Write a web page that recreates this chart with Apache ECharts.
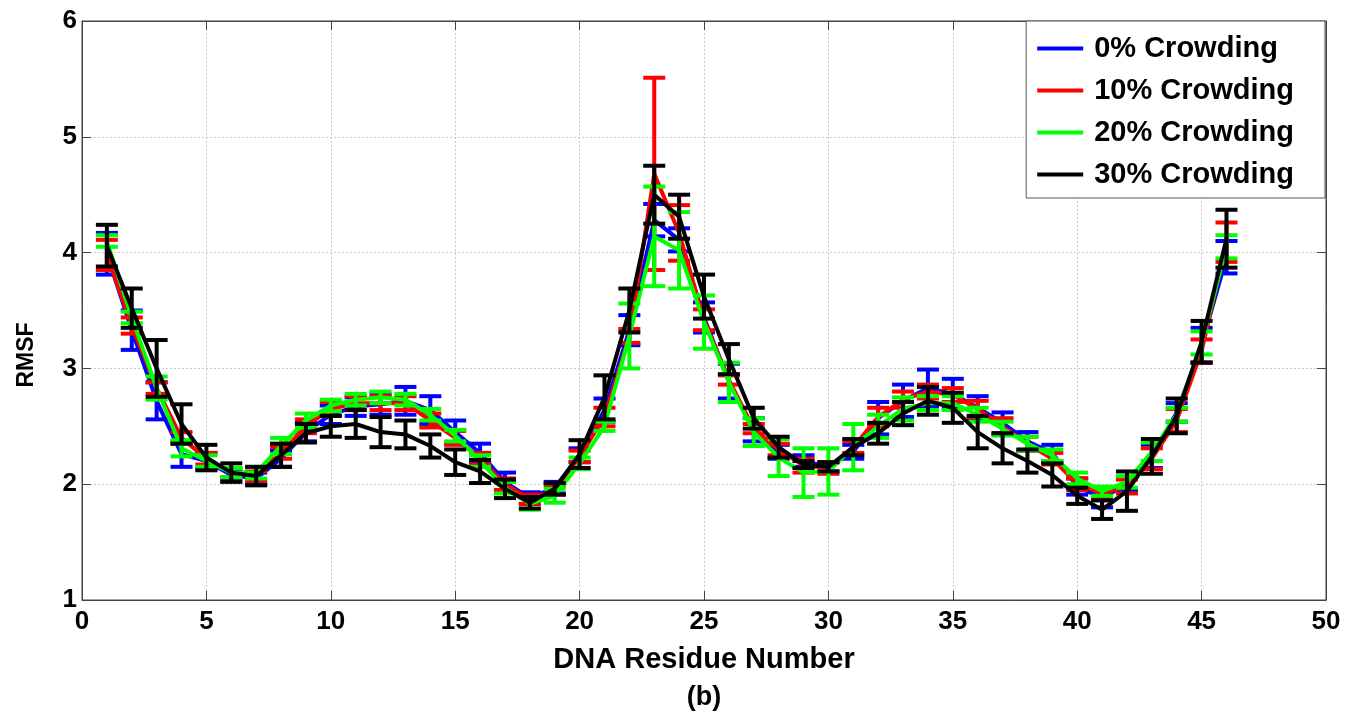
<!DOCTYPE html>
<html>
<head>
<meta charset="utf-8">
<script src="https://cdn.jsdelivr.net/npm/echarts@6/dist/echarts.min.js"></script>
<style>html,body{margin:0;padding:0;background:#fff;}#c{width:1359px;height:715px;}</style>
</head>
<body>
<div id="c"></div>
<script>
const residues = Array.from({length: 46}, (_, i) => i + 1);
const seriesNames = ['0% Crowding', '10% Crowding', '20% Crowding', '30% Crowding'];
const colors = ['#0000ff', '#ff0000', '#00ff00', '#000000'];
const xTicks = [0, 5, 10, 15, 20, 25, 30, 35, 40, 45, 50];
const yTicks = [1, 2, 3, 4, 5, 6];

const mean0 = [3.99,3.33,2.72,2.26,2.20,2.08,2.05,2.22,2.45,2.60,2.67,2.69,2.72,2.64,2.45,2.27,2.02,1.88,1.97,2.25,2.64,3.33,4.28,4.11,3.44,2.89,2.47,2.28,2.20,2.15,2.28,2.57,2.72,2.83,2.78,2.66,2.53,2.37,2.27,1.98,1.88,2.00,2.24,2.62,3.20,3.96];
const err0  = [0.18,0.17,0.16,0.11,0.07,0.05,0.05,0.07,0.08,0.08,0.08,0.09,0.12,0.12,0.10,0.08,0.08,0.05,0.05,0.06,0.10,0.13,0.14,0.10,0.13,0.15,0.10,0.06,0.05,0.04,0.06,0.14,0.14,0.16,0.13,0.10,0.09,0.08,0.07,0.07,0.08,0.05,0.10,0.08,0.15,0.14];

const mean10 = [3.98,3.37,2.83,2.40,2.22,2.10,2.07,2.27,2.50,2.65,2.70,2.70,2.70,2.55,2.40,2.22,2.00,1.87,1.95,2.24,2.58,3.28,4.68,4.17,3.42,2.90,2.48,2.30,2.16,2.14,2.32,2.58,2.73,2.80,2.77,2.65,2.50,2.35,2.22,2.00,1.92,1.98,2.22,2.55,3.15,4.09];
const err10  = [0.13,0.07,0.05,0.05,0.05,0.04,0.04,0.05,0.06,0.06,0.06,0.06,0.06,0.06,0.06,0.05,0.05,0.04,0.04,0.05,0.08,0.06,0.83,0.24,0.09,0.04,0.04,0.05,0.06,0.05,0.05,0.08,0.07,0.06,0.06,0.07,0.07,0.06,0.05,0.05,0.05,0.06,0.09,0.10,0.10,0.17];

const mean20 = [4.10,3.44,2.83,2.31,2.20,2.10,2.10,2.33,2.55,2.68,2.73,2.75,2.73,2.60,2.42,2.20,1.97,1.83,1.90,2.18,2.50,3.28,4.14,4.02,3.40,2.88,2.45,2.23,2.10,2.11,2.32,2.50,2.65,2.70,2.70,2.60,2.48,2.35,2.25,2.05,1.94,2.02,2.28,2.60,3.22,4.05];
const err20  = [0.05,0.05,0.10,0.07,0.05,0.04,0.05,0.07,0.06,0.05,0.05,0.05,0.05,0.05,0.05,0.05,0.05,0.05,0.06,0.05,0.04,0.28,0.43,0.33,0.23,0.17,0.12,0.16,0.21,0.20,0.20,0.10,0.10,0.06,0.06,0.06,0.06,0.06,0.05,0.05,0.04,0.05,0.08,0.06,0.10,0.10];

const mean30 = [4.06,3.52,3.00,2.52,2.23,2.10,2.07,2.25,2.44,2.50,2.52,2.45,2.43,2.33,2.19,2.11,1.96,1.84,1.96,2.26,2.75,3.50,4.50,4.31,3.62,3.08,2.57,2.32,2.17,2.15,2.32,2.44,2.61,2.72,2.66,2.45,2.31,2.20,2.08,1.90,1.78,1.94,2.24,2.59,3.23,4.12];
const err30  = [0.18,0.17,0.245,0.17,0.11,0.08,0.08,0.10,0.08,0.09,0.12,0.13,0.12,0.10,0.11,0.10,0.08,0.05,0.05,0.12,0.19,0.19,0.25,0.19,0.19,0.13,0.09,0.09,0.03,0.04,0.07,0.09,0.10,0.12,0.13,0.14,0.13,0.10,0.10,0.07,0.08,0.17,0.15,0.15,0.18,0.25];

const means = [mean0, mean10, mean20, mean30];
const errs = [err0, err10, err20, err30];

const FONT = '"Liberation Sans", Arial, Helvetica, sans-serif';

const chart = echarts.init(document.getElementById('c'), null, {renderer: 'canvas'});

function errRender(color) {
  return function (params, api) {
    const x = api.value(0), m = api.value(1), e = api.value(2);
    const hi = api.coord([x, m + e]);
    const lo = api.coord([x, m - e]);
    const cw = 11;
    const style = {stroke: color, lineWidth: 4};
    return {
      type: 'group',
      children: [
        {type: 'line', shape: {x1: hi[0], y1: hi[1], x2: lo[0], y2: lo[1]}, style: style},
        {type: 'line', shape: {x1: hi[0] - cw, y1: hi[1], x2: hi[0] + cw, y2: hi[1]}, style: style},
        {type: 'line', shape: {x1: lo[0] - cw, y1: lo[1], x2: lo[0] + cw, y2: lo[1]}, style: style}
      ]
    };
  };
}

const series = [];
for (let s = 0; s < 4; s++) {
  series.push({
    type: 'custom',
    name: seriesNames[s],
    renderItem: errRender(colors[s]),
    data: residues.map((r, i) => [r, means[s][i], errs[s][i]]),
    itemStyle: {color: colors[s]},
    silent: true,
    z: 2 + s * 2
  });
  series.push({
    type: 'line',
    name: seriesNames[s],
    data: residues.map((r, i) => [r, means[s][i]]),
    showSymbol: false,
    symbol: 'none',
    lineStyle: {color: colors[s], width: 4},
    itemStyle: {color: colors[s]},
    color: colors[s],
    z: 3 + s * 2,
    animation: false
  });
}

const axisLabelStyle = {color: '#000', fontFamily: FONT, fontWeight: 'bold', fontSize: 26};

chart.setOption({
  animation: false,
  backgroundColor: '#fff',
  grid: {left: 82, right: 33, top: 21, bottom: 115, show: true, borderColor: '#444', borderWidth: 1, containLabel: false},
  legend: {
    data: seriesNames,
    orient: 'vertical',
    right: 34,
    top: 21,
    backgroundColor: '#fff',
    borderColor: '#555',
    borderWidth: 1,
    padding: [13, 31, 9, 11],
    itemGap: 13,
    itemWidth: 46,
    itemHeight: 4,
    icon: 'rect',
    textStyle: {color: '#000', fontFamily: FONT, fontWeight: 'bold', fontSize: 29, padding: [0, 0, 0, 6]}
  },
  xAxis: [{
    type: 'value', min: 0, max: 50, interval: 5, position: 'bottom',
    axisLine: {show: true, onZero: false, lineStyle: {color: '#444', width: 1}},
    axisTick: {show: true, inside: true, length: 9, lineStyle: {color: '#444'}},
    axisLabel: Object.assign({margin: 9, formatter: v => xTicks.includes(v) ? String(v) : ''}, axisLabelStyle),
    splitLine: {show: true, lineStyle: {color: '#c8c8c8', type: [2, 2], width: 1}},
    name: 'DNA Residue Number', nameLocation: 'middle', nameGap: 45,
    nameTextStyle: {color: '#000', fontFamily: FONT, fontWeight: 'bold', fontSize: 29}
  }, {
    type: 'value', min: 0, max: 50, interval: 5, position: 'top',
    axisLine: {show: true, onZero: false, lineStyle: {color: '#444', width: 1}},
    axisTick: {show: true, inside: true, length: 9, lineStyle: {color: '#444'}},
    axisLabel: {show: false}, splitLine: {show: false}
  }],
  yAxis: [{
    type: 'value', min: 1, max: 6, interval: 1, position: 'left',
    axisLine: {show: true, onZero: false, lineStyle: {color: '#444', width: 1}},
    axisTick: {show: true, inside: true, length: 9, lineStyle: {color: '#444'}},
    axisLabel: Object.assign({margin: 5, formatter: v => yTicks.includes(v) ? String(v) : ''}, axisLabelStyle),
    splitLine: {show: true, lineStyle: {color: '#c8c8c8', type: [2, 2], width: 1}}
  }, {
    type: 'value', min: 1, max: 6, interval: 1, position: 'right',
    axisLine: {show: true, onZero: false, lineStyle: {color: '#444', width: 1}},
    axisTick: {show: true, inside: true, length: 9, lineStyle: {color: '#444'}},
    axisLabel: {show: false}, splitLine: {show: false}
  }],
  graphic: [
    {type: 'text', rotation: Math.PI / 2, x: 27, y: 355, style: {text: 'RMSF', fill: '#000', font: 'bold 23px ' + FONT, textAlign: 'center', textVerticalAlign: 'middle'}},
    {type: 'text', x: 704, y: 698, style: {text: '(b)', fill: '#000', font: 'bold 27px ' + FONT, textAlign: 'center', textVerticalAlign: 'middle'}}
  ],
  series: series
});
</script>
</body>
</html>
